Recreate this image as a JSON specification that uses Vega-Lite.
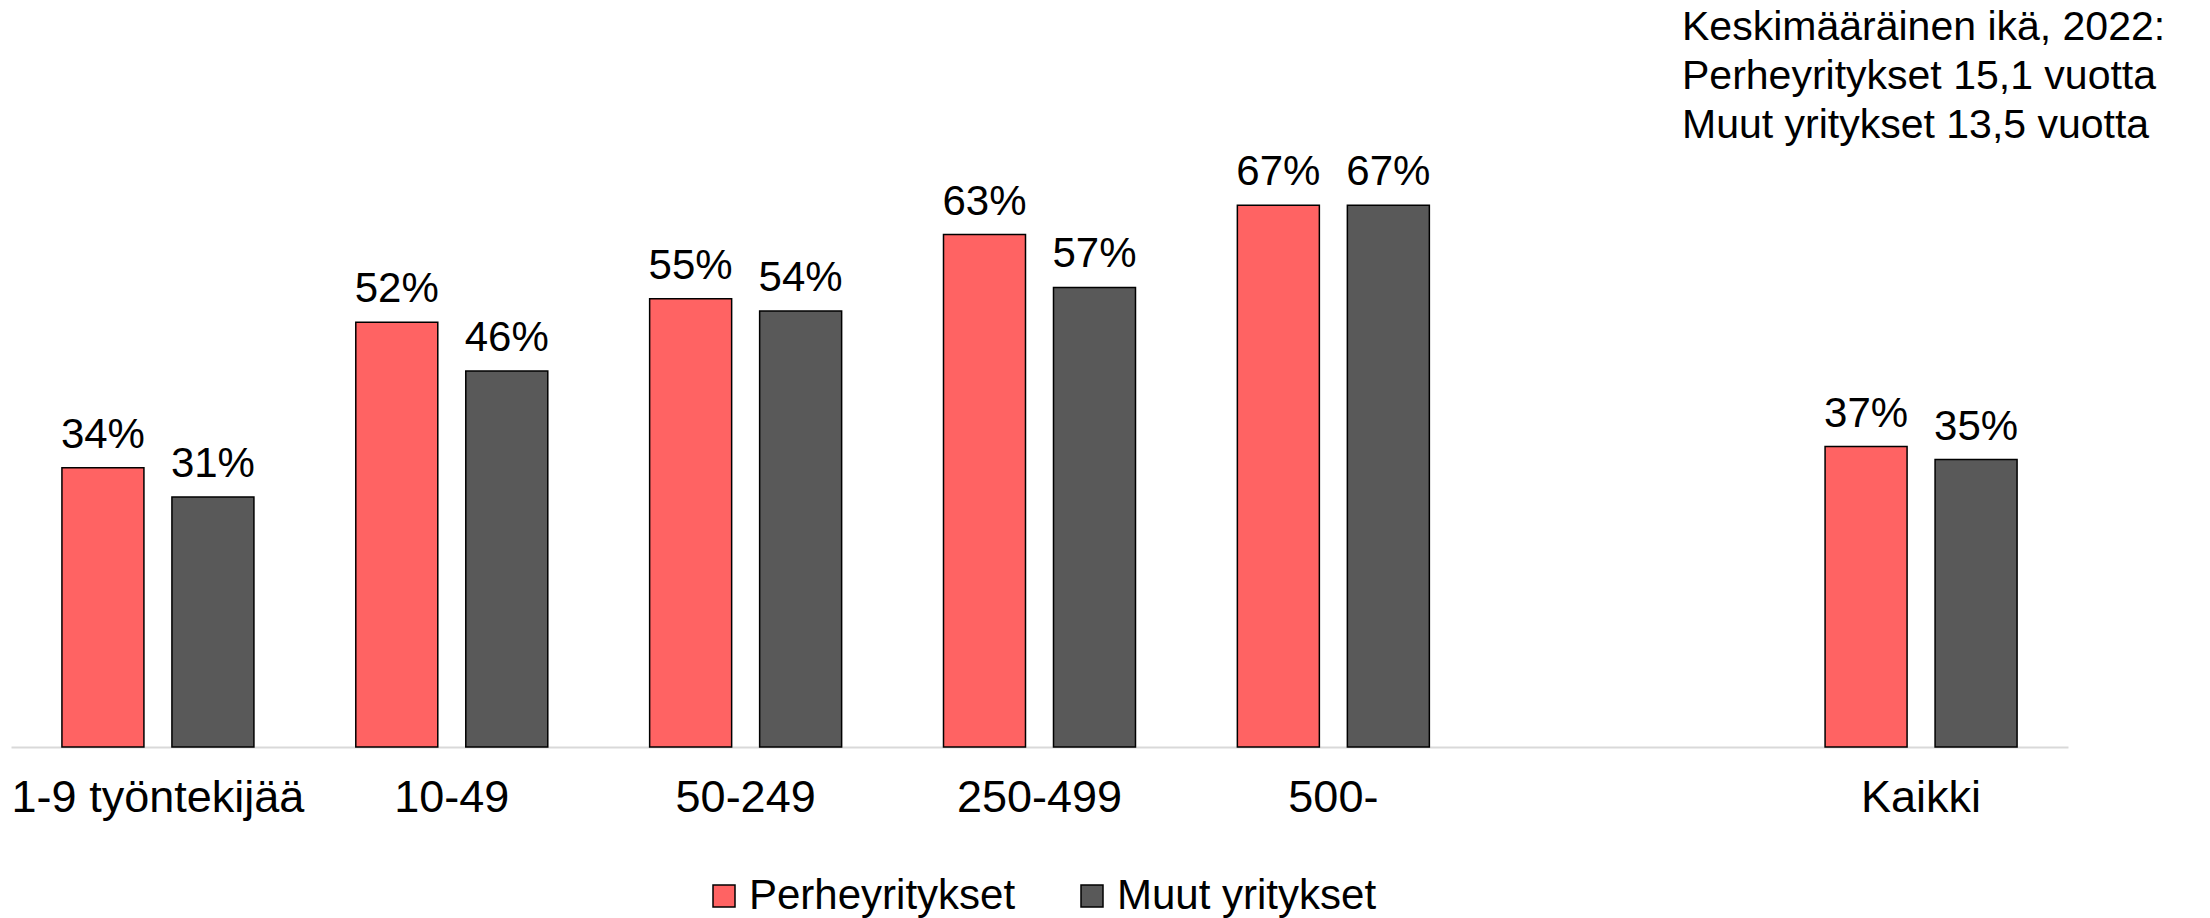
{
  "$schema": "https://vega.github.io/schema/vega-lite/v6.json",
  "width": 2057,
  "height": 585,
  "autosize": {"type": "none"},
  "padding": {"left": 11, "top": 162, "right": 142, "bottom": 171},
  "background": "white",
  "config": {
    "font": "Liberation Sans",
    "view": {"stroke": null},
    "legend": {"layout": {"bottom": {"anchor": "middle"}}}
  },
  "title": {
    "text": ["Keskimääräinen ikä, 2022:", "Perheyritykset 15,1 vuotta", "Muut yritykset 13,5 vuotta"],
    "anchor": "end",
    "align": "left",
    "dx": -386,
    "fontSize": 41,
    "lineHeight": 49,
    "fontWeight": "normal",
    "color": "black",
    "offset": 4,
    "frame": "group"
  },
  "data": {
    "values": [
      {"koko": "1-9 työntekijää", "ryhma": "Perheyritykset", "arvo": 0.344},
      {"koko": "1-9 työntekijää", "ryhma": "Muut yritykset", "arvo": 0.308},
      {"koko": "10-49", "ryhma": "Perheyritykset", "arvo": 0.523},
      {"koko": "10-49", "ryhma": "Muut yritykset", "arvo": 0.463},
      {"koko": "50-249", "ryhma": "Perheyritykset", "arvo": 0.552},
      {"koko": "50-249", "ryhma": "Muut yritykset", "arvo": 0.537},
      {"koko": "250-499", "ryhma": "Perheyritykset", "arvo": 0.631},
      {"koko": "250-499", "ryhma": "Muut yritykset", "arvo": 0.566},
      {"koko": "500-", "ryhma": "Perheyritykset", "arvo": 0.667},
      {"koko": "500-", "ryhma": "Muut yritykset", "arvo": 0.667},
      {"koko": "Kaikki", "ryhma": "Perheyritykset", "arvo": 0.370},
      {"koko": "Kaikki", "ryhma": "Muut yritykset", "arvo": 0.354}
    ]
  },
  "encoding": {
    "x": {
      "field": "koko",
      "type": "nominal",
      "scale": {
        "domain": ["1-9 työntekijää", "10-49", "50-249", "250-499", "500-", " ", "Kaikki"],
        "paddingInner": 0,
        "paddingOuter": 0
      },
      "axis": {
        "title": null,
        "labelAngle": 0,
        "labelFontSize": 45,
        "labelColor": "black",
        "labelPadding": 28,
        "labelLimit": 0,
        "ticks": false,
        "domainColor": "#d9d9d9",
        "domainWidth": 2,
        "grid": false
      }
    },
    "xOffset": {
      "field": "ryhma",
      "type": "nominal",
      "scale": {
        "domain": ["Perheyritykset", "Muut yritykset"],
        "paddingInner": 0.2545,
        "paddingOuter": 0.463
      }
    },
    "y": {
      "field": "arvo",
      "type": "quantitative",
      "scale": {"domain": [0, 0.7204], "nice": false},
      "axis": null
    }
  },
  "layer": [
    {
      "mark": {"type": "bar", "stroke": "black", "strokeWidth": 1.5},
      "encoding": {
        "color": {
          "field": "ryhma",
          "type": "nominal",
          "scale": {
            "domain": ["Perheyritykset", "Muut yritykset"],
            "range": ["#FF6363", "#595959"]
          },
          "legend": {
            "title": null,
            "orient": "bottom",
            "direction": "horizontal",
            "labelFontSize": 42,
            "labelColor": "black",
            "labelLimit": 0,
            "symbolType": "square",
            "symbolSize": 484,
            "symbolStrokeColor": "black",
            "symbolStrokeWidth": 1.5,
            "symbolOpacity": 1,
            "labelOffset": 4,
            "columnPadding": 55,
            "offset": 55
          }
        }
      }
    },
    {
      "mark": {"type": "text", "baseline": "alphabetic", "dy": -20, "fontSize": 42, "color": "black"},
      "encoding": {
        "text": {"field": "arvo", "type": "quantitative", "format": ".0%"}
      }
    }
  ]
}
